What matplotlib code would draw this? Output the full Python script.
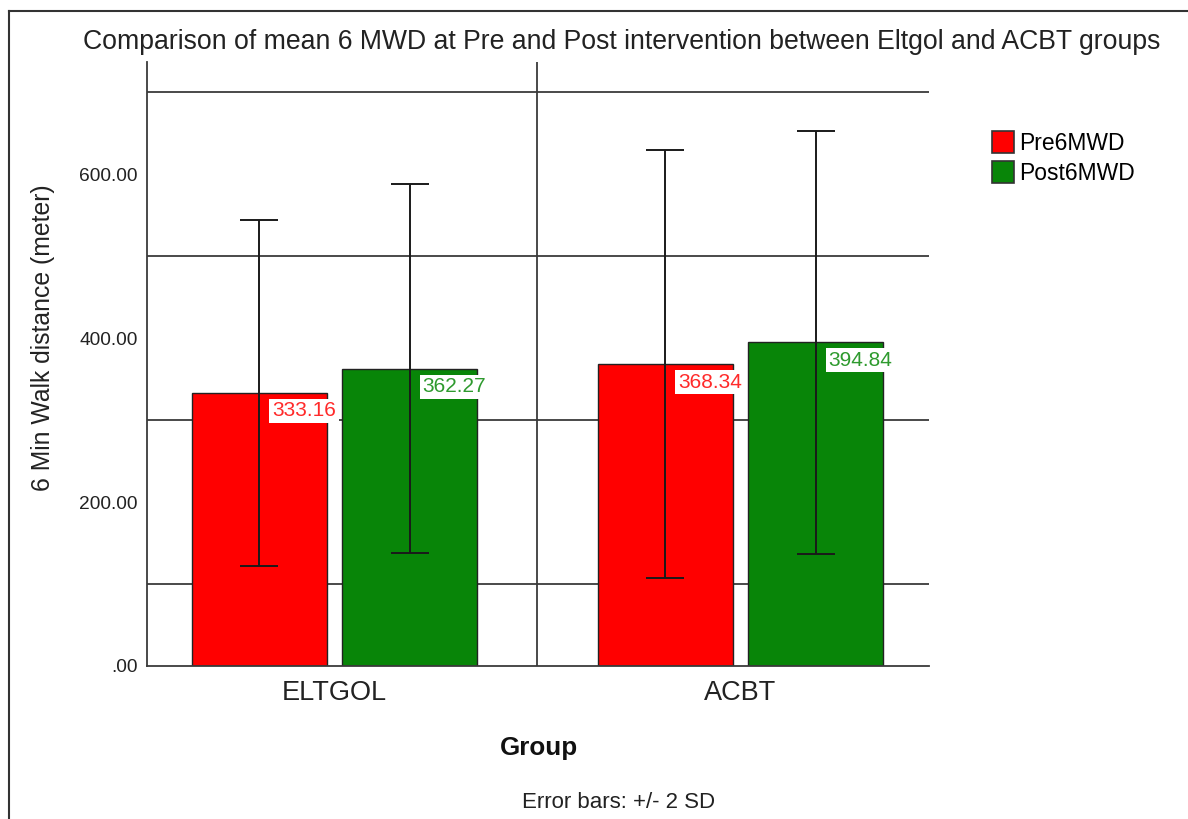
import numpy as np
import matplotlib
matplotlib.use('Agg')
import matplotlib.pyplot as plt
from matplotlib.lines import Line2D
from matplotlib.patches import Patch

plt.rcParams['font.family'] = ['Liberation Sans', 'DejaVu Sans']

groups = ['ELTGOL', 'ACBT']
series = ['Pre6MWD', 'Post6MWD']
pre_mean = [333.16, 368.34]
post_mean = [362.27, 394.84]
# error bars: +/- 2 SD
pre_err = [211, 261]
post_err = [225, 258]
colors = ['#ff0000', '#088508']
label_colors = ['#ff2a2a', '#2e9a2e']

fig = plt.figure(figsize=(11.88, 8.19), dpi=100)
ax = fig.add_axes([147 / 1188, 1 - 666 / 819, (929 - 147) / 1188, (666 - 62) / 819])

x = np.arange(len(groups))
w = 0.333
off = 0.185

# gridlines behind bars
for g in [100, 300, 500, 700]:
    ax.axhline(g, color='#3a3a3a', lw=1.3, zorder=0)
ax.axvline(0.5, color='#3a3a3a', lw=1.3, zorder=0)

for i, (means, errs) in enumerate([(pre_mean, pre_err), (post_mean, post_err)]):
    xs = x + (i * 2 - 1) * off
    ax.bar(xs, means, width=w, color=colors[i], edgecolor='#222222', lw=1.0,
           zorder=2, label=series[i])
    ax.errorbar(xs, means, yerr=errs, fmt='none', ecolor='#1a1a1a', elinewidth=1.4,
                capsize=13.5, capthick=1.4, zorder=4)
    for xi, m in zip(xs, means):
        ax.text(xi + 0.11, m - 22, f'{m:.2f}', color=label_colors[i], fontsize=15,
                ha='center', va='center', zorder=5,
                bbox=dict(facecolor='white', edgecolor='none', pad=2.0))

ax.set_xlim(-0.4618, 1.4643)
ax.set_ylim(0, 736.6)
ax.set_yticks([0, 200, 400, 600])
ax.set_yticklabels(['.00', '200.00', '400.00', '600.00'], fontsize=13.8, color='#222222')
ax.set_xticks(x)
ax.set_xticklabels(groups, fontsize=19.5, color='#222222')
ax.tick_params(axis='x', length=0, pad=10)
ax.tick_params(axis='y', length=0, pad=6.5)
for s in ['top', 'right']:
    ax.spines[s].set_visible(False)
for s in ['left', 'bottom']:
    ax.spines[s].set_color('#3a3a3a')
    ax.spines[s].set_linewidth(1.3)

ax.set_ylabel('6 Min Walk distance (meter)', fontsize=17.8, color='#222222')
ax.yaxis.set_label_coords(55 / 1188, 1 - 338 / 819, transform=fig.transFigure)
fig.text(622 / 1188, 1 - 42 / 819, 'Comparison of mean 6 MWD at Pre and Post intervention between Eltgol and ACBT groups',
         ha='center', va='center', fontsize=19.2, color='#222222')
fig.text(539 / 1188, 1 - 748 / 819, 'Group', ha='center', va='center', fontsize=18.7,
         fontweight='bold', color='#111111')
fig.text(619 / 1188, 1 - 803 / 819, 'Error bars: +/- 2 SD', ha='center', va='center',
         fontsize=16, color='#222222')

handles = [Patch(facecolor=c, edgecolor='#333333', lw=1.2) for c in colors]
fig.legend(handles, series, loc='upper left', bbox_to_anchor=(981 / 1188, 1 - 120 / 819),
           frameon=False, fontsize=16.5, handlelength=0.95, handleheight=1.1,
           handletextpad=0.2, labelspacing=0.25, borderpad=0)

# outer frame (left and top edges)
fig.add_artist(Line2D([9 / 1188, 9 / 1188], [0, 1 - 11 / 819], color='#333333', lw=1.5))
fig.add_artist(Line2D([9 / 1188, 1], [1 - 11 / 819, 1 - 11 / 819], color='#333333', lw=1.5))

fig.savefig('out.png', dpi=100)
